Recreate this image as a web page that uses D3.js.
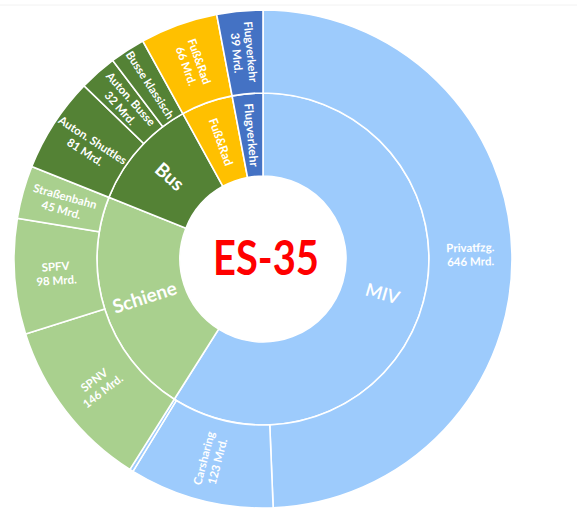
<!DOCTYPE html>
<html>
<head>
<meta charset="utf-8">
<script src="https://cdn.jsdelivr.net/npm/d3@7"></script>
<style>
  html, body { margin: 0; padding: 0; background: #fff; }
  svg { display: block; }
</style>
</head>
<body>
<svg id="chart" width="577" height="513"></svg>
<script>
// ---- Data ----
const groups = ["MIV", "Schiene", "Bus", "Fuß&Rad", "Flugverkehr"];
const segments = ["Privatfzg.", "Carsharing", "Sonstige", "SPNV", "SPFV", "Straßenbahn",
                  "Auton. Shuttles", "Auton. Busse", "Busse klassisch", "Fuß&Rad", "Flugverkehr"];
const segmentGroup = ["MIV", "MIV", "MIV", "Schiene", "Schiene", "Schiene",
                      "Bus", "Bus", "Bus", "Fuß&Rad", "Flugverkehr"];
const segmentValues = [646, 123, 3, 146, 98, 45, 81, 32, 30, 66, 39];
const showValue = [true, true, false, true, true, true, true, true, false, true, true];
const showLabel = [true, true, false, true, true, true, true, true, true, true, true];
const centerTitle = "ES-35";
const unit = "Mrd.";

// ---- Styles ----
const groupColors = {
  "MIV": "#9DCBFC",
  "Schiene": "#A9D08E",
  "Bus": "#548235",
  "Fuß&Rad": "#FFC000",
  "Flugverkehr": "#4472C4"
};
const groupFont = {
  "MIV": {size: 18, weight: 600},
  "Schiene": {size: 19, weight: 700},
  "Bus": {size: 19, weight: 700},
  "Fuß&Rad": {size: 12, weight: 700},
  "Flugverkehr": {size: 12, weight: 700}
};

const cx = 263, cy = 259, ringW = 83;

const rootData = {
  name: "root",
  children: groups.map(g => ({
    name: g,
    children: segments.map((s, i) => ({name: s, value: segmentValues[i], idx: i}))
                      .filter((s, i) => segmentGroup[i] === g)
  }))
};

const root = d3.hierarchy(rootData).sum(d => d.value || 0);
d3.partition().size([2 * Math.PI, 3])(root);

const svg = d3.select("#chart");
const font = "Lato, 'Open Sans', sans-serif";

// faint top border line
svg.append("line").attr("x1", 0).attr("x2", 577).attr("y1", 5).attr("y2", 5)
  .attr("stroke", "#f2f2f2").attr("stroke-width", 1);

const g = svg.append("g").attr("transform", `translate(${cx},${cy})`);

const arc = d3.arc()
  .startAngle(d => d.x0)
  .endAngle(d => d.x1)
  .innerRadius(d => d.y0 * ringW)
  .outerRadius(d => d.y1 * ringW);

const nodes = root.descendants().filter(d => d.depth > 0);
const colorOf = d => groupColors[d.depth === 1 ? d.data.name : d.parent.data.name];

g.selectAll("path.arc")
  .data(nodes)
  .join("path")
  .attr("class", "arc")
  .attr("d", arc)
  .attr("fill", colorOf)
  .attr("stroke", "#fff")
  .attr("stroke-width", 1.6);

function labelTransform(d) {
  const [x, y] = arc.centroid(d);
  const a = ((d.x0 + d.x1) / 2) * 180 / Math.PI;
  const rot = a < 180 ? a - 90 : a - 270;
  return `translate(${x},${y}) rotate(${rot})`;
}

// inner ring labels
g.selectAll("text.inner")
  .data(root.children)
  .join("text")
  .attr("class", "inner")
  .attr("transform", labelTransform)
  .attr("text-anchor", "middle")
  .attr("dy", "0.35em")
  .attr("fill", "#fff")
  .attr("font-family", font)
  .attr("font-size", d => groupFont[d.data.name].size)
  .attr("font-weight", d => groupFont[d.data.name].weight)
  .text(d => d.data.name);

// outer ring labels
const leaves = root.leaves().filter(d => showLabel[d.data.idx]);
const lh = 14;
const outer = g.selectAll("text.outer")
  .data(leaves)
  .join("text")
  .attr("class", "outer")
  .attr("transform", labelTransform)
  .attr("text-anchor", "middle")
  .attr("fill", "#fff")
  .attr("font-family", font)
  .attr("font-size", 11.5)
  .attr("font-weight", 700);

outer.each(function(d) {
  const t = d3.select(this);
  const lines = [d.data.name];
  if (showValue[d.data.idx]) lines.push(`${d.data.value} ${unit}`);
  const n = lines.length;
  lines.forEach((ln, i) => {
    t.append("tspan")
      .attr("x", 0)
      .attr("y", (i - (n - 1) / 2) * lh)
      .attr("dy", "0.35em")
      .text(ln);
  });
});

// center title
g.append("text")
  .attr("x", 3)
  .attr("y", 16)
  .attr("text-anchor", "middle")
  .attr("fill", "#FF0000")
  .attr("font-family", font)
  .attr("font-weight", 700)
  .attr("font-size", 47)
  .attr("textLength", 106)
  .attr("lengthAdjust", "spacingAndGlyphs")
  .text(centerTitle);
</script>
</body>
</html>
